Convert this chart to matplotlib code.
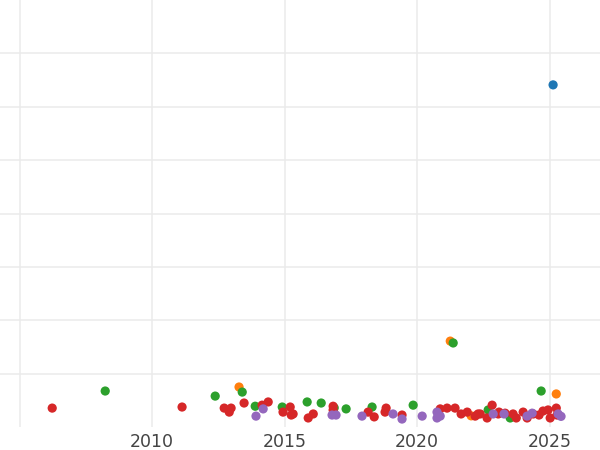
import matplotlib
matplotlib.use("Agg")
import matplotlib.pyplot as plt

# Values (year, value), one list per series
blue_x = [2025.13]
blue_y = [64.1]

orange_x = [2013.28, 2021.25, 2022.04, 2025.25]
orange_y = [7.5, 16.1, 2.1, 6.2]

green_x = [2008.23, 2012.38, 2013.40, 2013.89, 2014.91, 2015.85, 2016.38, 2016.87,
           2017.32, 2018.30, 2019.85, 2021.36, 2022.68, 2023.51, 2024.68]
green_y = [6.75, 5.8, 6.55, 3.9, 3.75, 4.7, 4.5, 3.6,
           3.4, 3.75, 4.1, 15.75, 3.2, 1.7, 6.75]

red_x = [2006.23, 2011.13, 2012.72, 2012.91, 2012.98, 2013.47, 2014.15, 2014.38,
         2014.94, 2015.21, 2015.25, 2015.32, 2015.89, 2016.08, 2016.83, 2016.83,
         2018.15, 2018.38, 2018.83, 2018.79, 2019.43, 2020.87, 2021.13, 2021.43,
         2021.66, 2021.89, 2022.19, 2022.30, 2022.38, 2022.64, 2022.83, 2023.06,
         2023.09, 2023.32, 2023.62, 2023.74, 2024.00, 2024.15, 2024.38, 2024.60,
         2024.75, 2024.94, 2025.02, 2025.25, 2025.28]
red_y = [3.55, 3.75, 3.55, 2.8, 3.55, 4.5, 4.1, 4.7,
         2.8, 3.75, 2.25, 2.45, 1.7, 2.45, 3.9, 3.2,
         2.8, 1.9, 3.55, 2.8, 2.25, 3.4, 3.55, 3.55,
         2.45, 2.8, 2.05, 2.45, 2.45, 1.7, 4.1, 2.45,
         2.8, 2.6, 2.45, 1.7, 2.8, 1.7, 2.45, 2.25,
         3.0, 3.2, 1.7, 3.55, 2.25]

purple_x = [2013.92, 2014.19, 2016.79, 2016.94, 2017.92, 2019.09, 2019.43, 2020.19,
            2020.75, 2020.75, 2020.87, 2022.87, 2023.28, 2024.15, 2024.34, 2025.32,
            2025.43]
purple_y = [2.05, 3.4, 2.25, 2.25, 2.05, 2.45, 1.5, 2.05,
            2.8, 1.7, 2.05, 2.45, 2.45, 2.05, 2.6, 2.45,
            2.0]

series = [
    (blue_x, blue_y, "#1f77b4"),
    (orange_x, orange_y, "#ff7f0e"),
    (green_x, green_y, "#2ca02c"),
    (red_x, red_y, "#d62728"),
    (purple_x, purple_y, "#9467bd"),
]

xticks = [2005, 2010, 2015, 2020, 2025]
xtick_labels = ["", "2010", "2015", "2020", "2025"]

fig = plt.figure(figsize=(6, 4.5), dpi=100)
ax = fig.add_axes([0, 0.051, 1, 0.949])

for xs, ys, c in series:
    ax.scatter(xs, ys, s=44, color=c, edgecolors="none", zorder=3)

ax.set_xlim(2004.26, 2026.9)
ax.set_ylim(0, 80)
ax.set_xticks(xticks)
ax.set_xticklabels(xtick_labels)
ax.set_yticks(range(10, 80, 10))
ax.set_yticklabels([])
ax.tick_params(axis="both", length=0, labelsize=12.5, labelcolor="#444444", pad=4)
ax.grid(True, color="#ebebeb", linewidth=1.1, zorder=0)
ax.set_axisbelow(True)
for sp in ax.spines.values():
    sp.set_visible(False)

fig.savefig("out.png", dpi=100)
